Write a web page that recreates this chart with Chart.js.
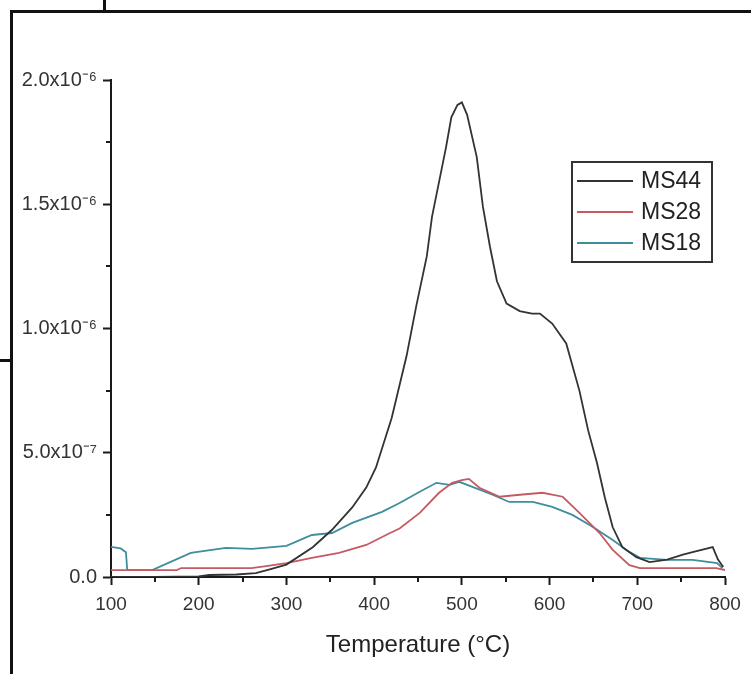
<!DOCTYPE html>
<html>
<head>
<meta charset="utf-8">
<script src="https://cdn.jsdelivr.net/npm/chart.js@4/dist/chart.umd.min.js"></script>
<style>
  body { margin: 0; background: #fff; }
  #wrap { position: relative; width: 751px; height: 674px; overflow: hidden; }
  #chart { position: absolute; left: 0; top: 0; }
  .rule { position: absolute; background: #111; }
</style>
</head>
<body>
<div id="wrap">
  <canvas id="chart" width="751" height="674"></canvas>
  <!-- frame lines around the figure (cropped screenshot edges) -->
  <div class="rule" style="left:10px; top:10px; width:741px; height:3px;"></div>
  <div class="rule" style="left:10px; top:10px; width:3px; height:664px;"></div>
  <div class="rule" style="left:103px; top:0; width:3px; height:11px;"></div>
  <div class="rule" style="left:0; top:359px; width:11px; height:3px;"></div>
</div>
<script>
// data (temperature in °C, signal in A)
const seriesNames = ["MS44", "MS28", "MS18"];
const seriesColors = ["#333333", "#c45a62", "#3f8e9c"];

const ms44Temp = [100, 150, 200, 212, 243, 265, 280, 300, 330, 352, 375, 391, 402, 420, 437, 448, 460, 466, 474, 482,
  488, 495, 500, 506, 517, 524, 532, 540, 551, 566, 580, 589, 603, 619, 634, 644, 654, 663, 672, 683,
  699, 714, 734, 752, 763, 786, 792, 798];
const ms44Val = [0, 0, 0.02e-7, 0.08e-7, 0.10e-7, 0.16e-7, 0.3e-7, 0.5e-7, 1.2e-7, 1.9e-7, 2.8e-7, 3.6e-7, 4.4e-7, 6.4e-7, 8.9e-7, 10.9e-7, 12.9e-7, 14.5e-7, 15.9e-7, 17.3e-7,
  18.5e-7, 19.0e-7, 19.1e-7, 18.6e-7, 16.9e-7, 14.9e-7, 13.3e-7, 11.9e-7, 11.0e-7, 10.7e-7, 10.6e-7, 10.6e-7, 10.2e-7, 9.4e-7, 7.5e-7, 5.9e-7, 4.6e-7, 3.2e-7, 2.0e-7, 1.2e-7,
  0.8e-7, 0.6e-7, 0.7e-7, 0.9e-7, 1.0e-7, 1.2e-7, 0.7e-7, 0.4e-7];

const ms28Temp = [100, 175, 180, 260, 277, 300, 329, 360, 391, 417, 429, 452, 474, 489, 500, 508, 520, 543, 566, 592,
  615, 634, 657, 672, 691, 703, 790, 800];
const ms28Val = [0.28e-7, 0.28e-7, 0.36e-7, 0.36e-7, 0.44e-7, 0.56e-7, 0.77e-7, 0.97e-7, 1.29e-7, 1.75e-7, 1.95e-7, 2.58e-7, 3.39e-7, 3.79e-7, 3.90e-7, 3.95e-7, 3.59e-7, 3.23e-7, 3.31e-7, 3.39e-7,
  3.23e-7, 2.58e-7, 1.77e-7, 1.09e-7, 0.48e-7, 0.36e-7, 0.36e-7, 0.28e-7];

const ms18Temp = [100, 111, 117, 118.5, 122, 147, 191, 231, 261, 300, 329, 352, 375, 409, 429, 452, 471, 486, 497, 512,
  535, 554, 581, 603, 626, 649, 672, 691, 703, 734, 763, 791, 797];
const ms18Val = [1.21e-7, 1.15e-7, 1.0e-7, 0.28e-7, 0.28e-7, 0.28e-7, 0.97e-7, 1.17e-7, 1.13e-7, 1.25e-7, 1.69e-7, 1.77e-7, 2.18e-7, 2.62e-7, 2.98e-7, 3.43e-7, 3.79e-7, 3.71e-7, 3.83e-7, 3.63e-7,
  3.31e-7, 3.02e-7, 3.02e-7, 2.82e-7, 2.5e-7, 2.02e-7, 1.49e-7, 1.01e-7, 0.77e-7, 0.69e-7, 0.69e-7, 0.56e-7, 0.36e-7];

const xTickLabels = ["100", "200", "300", "400", "500", "600", "700", "800"];
const yTickLabels = ["0.0", "5.0x10\u207B\u2077", "1.0x10\u207B\u2076", "1.5x10\u207B\u2076", "2.0x10\u207B\u2076"];

const FONT = "'Liberation Sans', Arial, sans-serif";
const AXIS = "#1a1a1a";

function points(xs, ys) {
  return xs.map((x, i) => ({ x, y: ys[i] }));
}

// minor ticks (short) and the boxed legend inside the plot
const extrasPlugin = {
  id: "extras",
  afterDraw(chart) {
    const { ctx, scales: { x, y } } = chart;
    ctx.save();
    ctx.strokeStyle = AXIS;
    ctx.lineWidth = 2;
    x.ticks.forEach((t, i) => {
      if (i % 2 === 0) return;
      const px = Math.round(x.getPixelForValue(t.value));
      ctx.beginPath();
      ctx.moveTo(px, y.bottom);
      ctx.lineTo(px, y.bottom + 5);
      ctx.stroke();
    });
    y.ticks.forEach((t, i) => {
      if (i % 2 === 0) return;
      const py = Math.round(y.getPixelForValue(t.value));
      ctx.beginPath();
      ctx.moveTo(x.left - 5, py);
      ctx.lineTo(x.left, py);
      ctx.stroke();
    });

    // legend box
    ctx.strokeStyle = "#333";
    ctx.lineWidth = 2;
    ctx.strokeRect(572, 162, 140, 100);
    ctx.font = "23px " + FONT;
    ctx.textBaseline = "middle";
    ctx.fillStyle = "#222";
    chart.data.datasets.forEach((ds, i) => {
      const ly = 181 + i * 31;
      ctx.strokeStyle = ds.borderColor;
      ctx.lineWidth = 2;
      ctx.beginPath();
      ctx.moveTo(577, ly);
      ctx.lineTo(633, ly);
      ctx.stroke();
      ctx.fillText(ds.label, 641, ly + 1);
    });
    ctx.restore();
  }
};

new Chart(document.getElementById("chart"), {
  type: "line",
  data: {
    datasets: [
      { label: seriesNames[0], data: points(ms44Temp, ms44Val), borderColor: seriesColors[0] },
      { label: seriesNames[1], data: points(ms28Temp, ms28Val), borderColor: seriesColors[1] },
      { label: seriesNames[2], data: points(ms18Temp, ms18Val), borderColor: seriesColors[2] }
    ]
  },
  options: {
    responsive: false,
    animation: false,
    layout: { padding: { left: 0, top: 80, right: 26, bottom: 0 } },
    elements: {
      line: { borderWidth: 1.8, tension: 0, fill: false },
      point: { radius: 0 }
    },
    plugins: { legend: { display: false }, tooltip: { enabled: false } },
    scales: {
      x: {
        type: "linear",
        min: 100,
        max: 800,
        border: { display: true, color: AXIS, width: 2 },
        grid: {
          drawOnChartArea: false,
          drawTicks: true,
          tickLength: 8,
          tickWidth: 2,
          tickColor: (c) => (c.index % 2 === 0 ? AXIS : "rgba(0,0,0,0)")
        },
        ticks: {
          stepSize: 50,
          autoSkip: false,
          maxRotation: 0,
          padding: 8,
          color: "#333",
          font: { family: FONT, size: 19 },
          callback: (v, i) => (i % 2 === 0 ? xTickLabels[i / 2] : "")
        },
        title: {
          display: true,
          text: "Temperature (\u00B0C)",
          color: "#222",
          font: { family: FONT, size: 24 },
          padding: { top: 4, bottom: 14 }
        },
        afterFit: (s) => { s.height = 97; }
      },
      y: {
        min: 0,
        max: 2e-6,
        border: { display: true, color: AXIS, width: 2 },
        grid: {
          drawOnChartArea: false,
          drawTicks: true,
          tickLength: 8,
          tickWidth: 2,
          tickColor: (c) => (c.index % 2 === 0 ? AXIS : "rgba(0,0,0,0)")
        },
        ticks: {
          stepSize: 2.5e-7,
          autoSkip: false,
          padding: 6,
          color: "#333",
          font: { family: FONT, size: 20 },
          callback: (v, i) => (i % 2 === 0 ? yTickLabels[i / 2] : "")
        },
        afterFit: (s) => { s.width = 111; }
      }
    }
  },
  plugins: [extrasPlugin]
});
</script>
</body>
</html>
